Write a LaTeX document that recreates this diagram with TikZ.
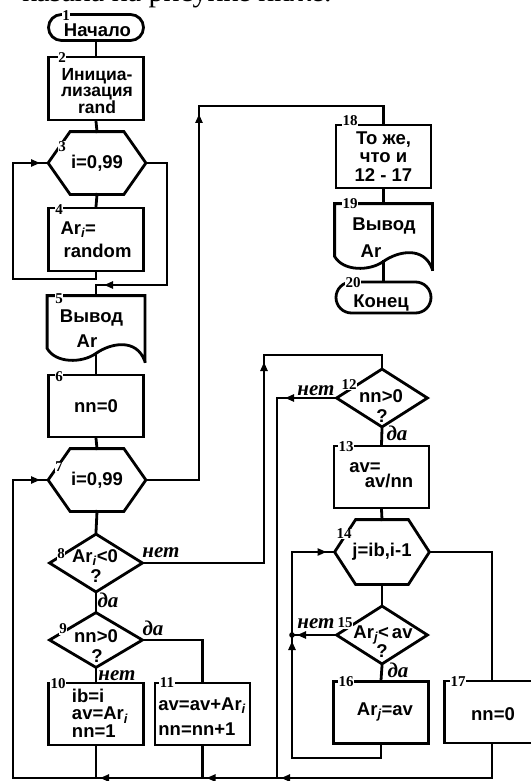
\documentclass[tikz,border=0pt]{standalone}
\usepackage{fontspec}
\setmainfont{Liberation Serif}
\newfontfamily\blockfont{Liberation Sans}
\usetikzlibrary{arrows.meta, shapes.geometric, shapes.misc, decorations.markings, calc}
\newcommand\idx[1]{\textsubscript{\itshape #1}}

\begin{document}
\begin{tikzpicture}[x=1pt, y=-1pt, line width=2.8pt, line cap=rect,
  box/.style={draw, rectangle, minimum width=95pt, minimum height=62pt, inner sep=0pt},
  frame/.style={rectangle, minimum width=95pt, minimum height=63pt, inner sep=0pt},
  term/.style={draw, rounded rectangle, minimum width=95pt, minimum height=26pt, inner sep=0pt},
  cond/.style={draw, diamond, minimum width=94pt, minimum height=59pt, inner sep=0pt},
  txt/.style={font=\blockfont\bfseries\fontsize{18.5}{17.5}\selectfont, inner sep=0pt, align=left},
  num/.style={font=\bfseries\fontsize{15}{15}\selectfont, fill=white, inner sep=0.5pt},
  ans/.style={font=\bfseries\itshape\fontsize{21}{21}\selectfont, inner sep=0pt, anchor=base},
  fwd/.style={postaction={decorate, decoration={markings,
    mark=at position #1 with {\arrow{Triangle[length=9pt, width=7pt]}}}}}]
  \useasboundingbox (0,0) rectangle (530,781);
  \node[font=\fontsize{30}{30}\selectfont, anchor=base east, inner sep=0pt] (head) at (333,2) {казана на рисунке ниже.};

  % left column
  \node[term] (b1) at (96,27.5) {};
  \node[txt, anchor=base] (t1) at (97.5,37) {Начало};
  \node[box, minimum height=63pt] (b2) at (96,88.5) {};
  \node[txt, align=center, font=\blockfont\bfseries\fontsize{17.5}{16.5}\selectfont] (t2) at (97,91) {Инициа-\\лизация\\rand};
  \node[frame, txt, minimum height=60pt] (b3) at (97,163) {i=0,99};
  \node[box, txt, minimum height=63pt] (b4) at (96,239.5) {Ar\idx{i}=\\[5pt]\,random};
  \node[frame] (b5) at (96,328.5) {};
  \node[txt, anchor=base] (t5a) at (91.5,322) {Вывод};
  \node[txt, anchor=base] (t5b) at (87,347) {Ar};
  \node[box, txt] (b6) at (96,406) {nn=0};
  \node[frame, txt, minimum height=60pt] (b7) at (97,480) {i=0,99};
  \node[cond] (b8) at (96,563) {};
  \node[txt, anchor=base] (t8a) at (95,562) {Ar\idx{i}<0};
  \node[txt, anchor=base] (t8b) at (96,582) {?};
  \node[cond, minimum height=56pt] (b9) at (96,640) {};
  \node[txt, anchor=base] (t9a) at (96,642) {nn>0};
  \node[txt, anchor=base] (t9b) at (97,662) {?};
  \node[box] (b10) at (96,714) {};
  \node[txt] (t10) at (100,713) {ib=i\\av=Ar\idx{i}\\nn=1};
  \node[box] (b11) at (202.5,714) {};
  \node[txt, anchor=base west] (t11a) at (157,710) {av=av+Ar\idx{i}};
  \node[txt, anchor=base west] (t11b) at (157,735) {nn=nn+1};

  % right column
  \node[box, txt, align=center, minimum height=63pt, font=\blockfont\bfseries\fontsize{18.5}{18.5}\selectfont] (b18) at (383.5,156.5) {То же,\\что и\\12 - 17};
  \node[frame] (b19) at (383.5,236.5) {};
  \node[txt, anchor=base] (t19a) at (384,230) {Вывод};
  \node[txt, anchor=base] (t19b) at (371,257) {Ar};
  \node[term, minimum height=31pt] (b20) at (383.5,297.5) {};
  \node[txt, anchor=base] (t20) at (381,307) {Конец};
  \node[cond, minimum width=92pt] (b12) at (382,398) {};
  \node[txt, anchor=base] (t12a) at (381,402) {nn>0};
  \node[txt, anchor=base] (t12b) at (382,422) {?};
  \node[box] (b13) at (381.5,477) {};
  \node[txt, anchor=base] (t13a) at (365,472) {av=};
  \node[txt, anchor=base] (t13b) at (389,487) {av/nn};
  \node[frame, txt, minimum width=92pt, minimum height=62pt] (b14) at (382,552) {j=ib,i-1};
  \node[cond, minimum width=92pt] (b15) at (382,635) {};
  \node[txt, anchor=base] (t15a) at (383,638) {Ar\idx{j}<\,av};
  \node[txt, anchor=base] (t15b) at (382,657) {?};
  \node[box] (b16) at (381,712.5) {};
  \node[txt, anchor=base] (t16) at (385,715) {Ar\idx{j}=av};
  \node[box] (b17) at (492,712) {};
  \node[txt, anchor=base] (t17) at (493,720) {nn=0};

  % outlines of loops and outputs
  \foreach \n/\c in {b3/22, b7/22, b14/21}
    \draw (\n.west) -- ([xshift=\c pt]\n.north west) -- ([xshift=-\c pt]\n.north east)
      -- (\n.east) -- ([xshift=-\c pt]\n.south east) -- ([xshift=\c pt]\n.south west) -- cycle;
  \foreach \n in {b5, b19} {
    \coordinate (w\n) at ($(\n.south)+(0,-8)$);
    \draw (\n.south east) -- (\n.north east) -- (\n.north west) -- ($(\n.south west)+(0,-13)$)
      .. controls +(8.5,15) and +(-14,10) .. (w\n) .. controls +(14,-10) and +(-8.5,-24) .. (\n.south east);
  }

  % connectors
  \coordinate (l3) at (13,279);
  \coordinate (r3) at (167,285);
  \coordinate (up18) at (199,106);
  \coordinate (up12) at (264,355);
  \coordinate (l12) at (277,398);
  \coordinate (bot) at (13,778);
  \coordinate (l14) at (292,758);
  \coordinate (j15) at (292,635);
  \draw (b1.south) -- (b2.north);
  \draw (b2.south) -- (b3.north);
  \draw (b3.south) -- (b4.north);
  \draw (b4.south) |- (l3) -- (l3 |- b3.west);
  \draw[fwd=-8pt] (l3 |- b3.west) -- (b3.west);
  \draw (b3.east) -| (r3);
  \draw[fwd=-8pt] (r3) -- (r3 -| b5.north);
  \draw (r3 -| b5.north) -- (b5.north);
  \draw (wb5) -- (b6.north);
  \draw (b6.south) -- (b7.north);
  \draw (b7.south) -- (b8.north);
  \draw (b8.south) -- (b9.north);
  \draw (b9.south) -- (b10.north);
  \draw (b9.east) -| (b11.north);
  \draw[fwd=-8pt] (b7.east) -| (up18);
  \draw (up18) -| (b18.north);
  \draw (b18.south) -- (b19.north);
  \draw (wb19) -- (b20.north);
  \draw[fwd=-7pt] (b8.east) -| (up12);
  \draw (up12) -| (b12.north);
  \draw[fwd=-8pt] (b12.west) -- (l12);
  \draw (l12) -- (l12 |- bot);
  \draw (b12.south) -- (b13.north);
  \draw (b13.south) -- (b14.north);
  \draw (b14.south) -- (b15.north);
  \draw (b15.south) -- (b16.north);
  \draw (b14.east) -| (b17.north);
  \draw (b16.south) |- (l14);
  \draw[fwd=-6pt] (l14) -- (j15);
  \draw (j15) -- (j15 |- b14.west);
  \draw[fwd=-8pt] (j15 |- b14.west) -- (b14.west);
  \draw[fwd=-5pt] (b15.west) -- (j15);
  \fill (j15) circle (2.8pt);
  % bottom return line
  \draw (b10.south) -- (b10.south |- bot);
  \draw (b11.south) -- (b11.south |- bot);
  \draw[fwd=-4pt] (b17.south) |- (l12 |- bot);
  \draw[fwd=-4pt] (l12 |- bot) -- (b11.south |- bot);
  \draw[fwd=-4pt] (b11.south |- bot) -- (b10.south |- bot);
  \draw (b10.south |- bot) -- (bot) -- (bot |- b7.west);
  \draw[fwd=-8pt] (bot |- b7.west) -- (b7.west);

  % answers
  \node[ans] (a8n) at (161,557) {нет};
  \node[ans] (a8d) at (108,607) {да};
  \node[ans] (a9d) at (153,635) {да};
  \node[ans] (a9n) at (117,680) {нет};
  \node[ans] (a12n) at (316,395) {нет};
  \node[ans] (a12d) at (397,440) {да};
  \node[ans] (a15n) at (316,628) {нет};
  \node[ans] (a15d) at (398,677) {да};

  % block numbers
  \foreach \k/\x/\y in {1/66/16, 2/62/58, 3/62/147, 4/59/210, 5/59/299, 6/59/377, 7/59/467,
      8/61/554, 9/63/629, 10/58/684, 11/167/683, 12/349/385, 13/346/447, 14/344/534,
      15/345/623, 16/346/682, 17/458/682, 18/350/121, 19/350/204, 20/353/283}
    \node[num] (n\k) at (\x,\y) {\k};
\end{tikzpicture}
\end{document}
